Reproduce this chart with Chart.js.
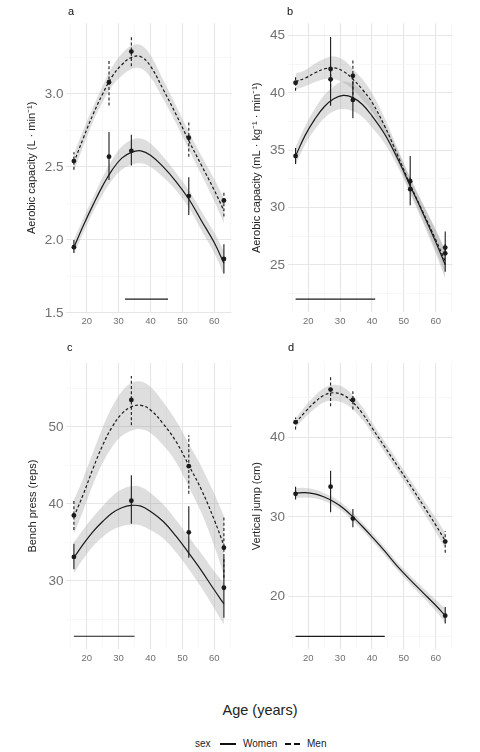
<!DOCTYPE html>
<html>
<head>
<meta charset="utf-8">
<script src="https://cdn.jsdelivr.net/npm/chart.js@4.4.0/dist/chart.umd.min.js"></script>
<style>
  body { margin: 0; background: #fff; width: 480px; height: 752px; position: relative; overflow: hidden;
         font-family: "Liberation Sans", Arial, sans-serif; }
  canvas { position: absolute; }
  .tag { position: absolute; font-size: 11px; color: #111; }
  .axt { position: absolute; font-size: 14.5px; color: #222; }
  .leg { position: absolute; font-size: 10px; color: #222; top: 738px; }
</style>
</head>
<body>
<canvas id="pa" width="240" height="335" style="left:0;top:0"></canvas>
<canvas id="pb" width="240" height="335" style="left:240px;top:0"></canvas>
<canvas id="pc" width="240" height="335" style="left:0;top:335px"></canvas>
<canvas id="pd" width="240" height="335" style="left:240px;top:335px"></canvas>

<div class="tag" style="left:68px;top:5px">a</div>
<div class="tag" style="left:287px;top:5px">b</div>
<div class="tag" style="left:67px;top:341px">c</div>
<div class="tag" style="left:288px;top:341px">d</div>
<div class="axt" style="left:0;width:520px;text-align:center;top:702px">Age (years)</div>

<div class="leg" style="left:195px">sex</div>
<svg style="position:absolute;left:219px;top:741px" width="18" height="6"><line x1="1" y1="3" x2="17" y2="3" stroke="#111" stroke-width="2"/></svg>
<div class="leg" style="left:243px">Women</div>
<svg style="position:absolute;left:284px;top:741px" width="18" height="6"><line x1="1" y1="3" x2="17" y2="3" stroke="#111" stroke-width="2" stroke-dasharray="6,3"/></svg>
<div class="leg" style="left:307px">Men</div>

<script>
// x axis, shared by all panels
const xTicks = [15, 20, 25, 30, 35, 40, 45, 50, 55, 60, 65];
const xLabels = ['', '20', '', '30', '', '40', '', '50', '', '60', ''];

const fitAge = [16, 19, 22, 25, 28, 31, 34, 37, 40, 44, 48, 52, 56, 60, 63];

// a - aerobic capacity (L/min)
const aAges = [16, 27, 34, 52, 63];
const aWomen = [1.95, 2.57, 2.61, 2.30, 1.87];
const aWomenLo = [1.91, 2.41, 2.51, 2.17, 1.77];
const aWomenHi = [2.00, 2.74, 2.72, 2.43, 1.97];
const aMen = [2.54, 3.08, 3.29, 2.70, 2.27];
const aMenLo = [2.48, 2.92, 3.19, 2.57, 2.16];
const aMenHi = [2.60, 3.23, 3.39, 2.81, 2.33];
const aFitWomen = [1.95, 2.10, 2.24, 2.37, 2.48, 2.56, 2.60, 2.61, 2.58, 2.50, 2.40, 2.28, 2.13, 1.98, 1.84];
const aSeWomen = [0.05, 0.05, 0.05, 0.06, 0.07, 0.08, 0.085, 0.085, 0.08, 0.07, 0.06, 0.06, 0.065, 0.07, 0.08];
const aFitMen = [2.53, 2.70, 2.86, 3.00, 3.12, 3.20, 3.25, 3.255, 3.19, 3.03, 2.86, 2.68, 2.51, 2.34, 2.20];
const aSeMen = [0.06, 0.055, 0.05, 0.055, 0.065, 0.075, 0.08, 0.08, 0.075, 0.065, 0.06, 0.06, 0.065, 0.075, 0.085];
const aYTicks = [1.5, 1.75, 2, 2.25, 2.5, 2.75, 3, 3.25];
const aYLabels = ['1.5', '', '2.0', '', '2.5', '', '3.0', ''];

// b - aerobic capacity (mL/kg/min)
const bAges = [16, 27, 34, 52, 63];
const bWomen = [34.5, 42.1, 39.4, 31.6, 26.0];
const bWomenLo = [33.8, 38.9, 37.8, 30.2, 24.4];
const bWomenHi = [35.2, 44.9, 41.0, 34.5, 27.9];
const bMen = [40.9, 41.2, 41.5, 32.3, 26.5];
const bMenLo = [40.2, 40.5, 39.4, 31.9, 26.1];
const bMenHi = [41.5, 41.9, 42.9, 32.7, 26.9];
const bFitWomen = [34.5, 36.3, 37.7, 38.8, 39.5, 39.8, 39.6, 39.0, 38.0, 36.4, 34.3, 31.9, 29.5, 27.0, 25.0];
const bSeWomen = [0.8, 0.8, 0.9, 1.0, 1.1, 1.2, 1.2, 1.1, 1.0, 0.8, 0.7, 0.7, 0.8, 1.0, 1.2];
const bFitMen = [41.0, 41.3, 41.75, 42.1, 42.2, 41.9, 41.2, 40.3, 39.2, 37.1, 34.6, 32.0, 29.6, 27.2, 25.3];
const bSeMen = [0.7, 0.7, 0.8, 0.9, 1.0, 1.0, 0.9, 0.9, 0.8, 0.7, 0.6, 0.6, 0.7, 0.9, 1.0];
const bYTicks = [22.5, 25, 27.5, 30, 32.5, 35, 37.5, 40, 42.5, 45];
const bYLabels = ['', '25', '', '30', '', '35', '', '40', '', '45'];

// c - bench press (reps)
const cAges = [16, 34, 52, 63];
const cWomen = [33.1, 40.4, 36.3, 29.1];
const cWomenLo = [31.5, 37.4, 33.0, 25.2];
const cWomenHi = [34.8, 43.7, 39.7, 33.1];
const cMen = [38.5, 53.5, 44.9, 34.3];
const cMenLo = [36.6, 50.2, 41.3, 30.4];
const cMenHi = [40.5, 56.6, 48.9, 38.3];
const cFitWomen = [33.0, 34.8, 36.4, 37.7, 38.8, 39.5, 39.8, 39.7, 39.0, 37.7, 35.8, 33.6, 31.3, 28.8, 27.0];
const cSeWomen = [2.0, 1.9, 1.9, 2.0, 2.2, 2.4, 2.5, 2.5, 2.4, 2.2, 2.1, 2.1, 2.2, 2.4, 2.7];
const cFitMen = [38.3, 41.3, 44.6, 47.6, 50.0, 51.7, 52.6, 52.8, 52.2, 50.4, 48.1, 45.0, 41.8, 37.9, 34.6];
const cSeMen = [2.2, 2.1, 2.1, 2.3, 2.6, 2.9, 3.1, 3.1, 3.0, 2.8, 2.7, 2.8, 3.0, 3.4, 3.8];
const cYTicks = [25, 30, 35, 40, 45, 50, 55];
const cYLabels = ['', '30', '', '40', '', '50', ''];

// d - vertical jump (cm)
const dAges = [16, 27, 34, 63];
const dWomen = [32.9, 33.8, 29.8, 17.6];
const dWomenLo = [32.2, 30.6, 28.7, 16.6];
const dWomenHi = [33.8, 35.8, 31.0, 18.7];
const dMen = [41.9, 46.0, 44.7, 26.9];
const dMenLo = [41.0, 43.9, 43.5, 25.5];
const dMenHi = [42.5, 47.7, 45.8, 28.2];
const dFitWomen = [33.0, 33.05, 32.9, 32.5, 31.9, 31.1, 30.0, 28.8, 27.5, 25.7, 23.8, 22.1, 20.5, 18.9, 17.6];
const dSeWomen = [0.6, 0.6, 0.55, 0.5, 0.5, 0.5, 0.5, 0.5, 0.5, 0.5, 0.5, 0.55, 0.6, 0.7, 0.9];
const dFitMen = [41.8, 43.2, 44.4, 45.3, 45.6, 45.3, 44.4, 43.0, 41.2, 38.8, 36.4, 34.0, 31.5, 29.0, 27.0];
const dSeMen = [0.6, 0.7, 0.8, 0.9, 1.0, 1.0, 0.9, 0.8, 0.7, 0.7, 0.7, 0.7, 0.8, 0.9, 1.0];
const dYTicks = [15, 20, 25, 30, 35, 40, 45];
const dYLabels = ['', '20', '', '30', '', '40', ''];

// the horizontal bar near the bottom of each panel
const spanFrom = [32, 16, 16, 16];
const spanTo = [45.5, 41, 35, 44];
const spanAt = [1.594, 22.0, 22.8, 15.0];

const ink = '#1a1a1a';
const band = 'rgba(153,153,153,0.32)';
const dash = [3, 2.2];

function pts(xs, ys) {
  return xs.map((x, i) => ({x: x, y: ys[i]}));
}
function bars(xs, lo, hi) {
  const out = [];
  xs.forEach((x, i) => { out.push({x: x, y: lo[i]}, {x: x, y: hi[i]}, {x: x, y: null}); });
  return out;
}
function shifted(ys, se, sign) {
  return ys.map((v, i) => v + sign * se[i]);
}

function makePanel(id, p) {
  const curve = {showLine: true, pointRadius: 0, tension: 0.4};
  const datasets = [
    Object.assign({data: pts(fitAge, shifted(p.fitM, p.seM, 1)), borderWidth: 0, fill: '+1', backgroundColor: band, order: 5}, curve),
    Object.assign({data: pts(fitAge, shifted(p.fitM, p.seM, -1)), borderWidth: 0, fill: false, order: 5}, curve),
    Object.assign({data: pts(fitAge, shifted(p.fitW, p.seW, 1)), borderWidth: 0, fill: '+1', backgroundColor: band, order: 5}, curve),
    Object.assign({data: pts(fitAge, shifted(p.fitW, p.seW, -1)), borderWidth: 0, fill: false, order: 5}, curve),
    Object.assign({data: pts(fitAge, p.fitW), borderColor: ink, borderWidth: 1.2, order: 2}, curve),
    Object.assign({data: pts(fitAge, p.fitM), borderColor: ink, borderWidth: 1.2, borderDash: dash, order: 2}, curve),
    {data: bars(p.ages, p.wLo, p.wHi), showLine: true, spanGaps: false, pointRadius: 0, borderColor: ink, borderWidth: 1.1, order: 1},
    {data: bars(p.ages, p.mLo, p.mHi), showLine: true, spanGaps: false, pointRadius: 0, borderColor: ink, borderWidth: 1.1, borderDash: dash, order: 1},
    {data: pts(p.ages, p.w), pointRadius: 2.4, backgroundColor: ink, borderWidth: 0, order: 0},
    {data: pts(p.ages, p.m), pointRadius: 2.4, backgroundColor: ink, borderWidth: 0, order: 0},
    {data: [{x: p.span[0], y: p.span[2]}, {x: p.span[1], y: p.span[2]}], showLine: true, pointRadius: 0, borderColor: ink, borderWidth: 1.1, order: 2}
  ];

  const isMajorX = v => xLabels[xTicks.indexOf(v)] !== '';
  const isMajorY = v => p.yLabels[p.yTicks.indexOf(v)] !== '';

  new Chart(document.getElementById(id), {
    type: 'scatter',
    data: {datasets: datasets},
    options: {
      responsive: false,
      animation: false,
      events: [],
      layout: {padding: {top: p.top, right: p.right, left: 0, bottom: 0}},
      plugins: {legend: {display: false}, tooltip: {enabled: false}},
      scales: {
        x: {
          type: 'linear', min: 13.65, max: 65.35,
          border: {display: false},
          grid: {
            drawTicks: false,
            color: c => isMajorX(c.tick.value) ? '#e6e6e6' : '#f1f1f1',
            lineWidth: c => isMajorX(c.tick.value) ? 1.1 : 0.6
          },
          afterBuildTicks: ax => { ax.ticks = xTicks.map(v => ({value: v})); },
          ticks: {
            autoSkip: false, maxRotation: 0, padding: 3.5, color: '#707070',
            font: {family: 'Liberation Sans', size: 9.5},
            callback: v => xLabels[xTicks.indexOf(v)]
          },
          afterFit: s => { s.height = p.xh; }
        },
        y: {
          type: 'linear', min: p.ymin, max: p.ymax,
          border: {display: false},
          grid: {
            drawTicks: false,
            color: c => isMajorY(c.tick.value) ? '#e6e6e6' : '#f1f1f1',
            lineWidth: c => isMajorY(c.tick.value) ? 1.1 : 0.6
          },
          afterBuildTicks: ax => { ax.ticks = p.yTicks.map(v => ({value: v})); },
          ticks: {
            autoSkip: false, padding: 3, color: '#707070',
            font: {family: 'Liberation Sans', size: 13.5},
            callback: v => p.yLabels[p.yTicks.indexOf(v)]
          },
          title: {
            display: true, text: p.title, color: '#222',
            font: {family: 'Liberation Sans', size: 11},
            padding: {top: p.titlePad, bottom: 0}
          },
          afterFit: s => { s.width = p.yw; }
        }
      }
    }
  });
}

makePanel('pa', {
  ages: aAges, w: aWomen, wLo: aWomenLo, wHi: aWomenHi, m: aMen, mLo: aMenLo, mHi: aMenHi,
  fitW: aFitWomen, seW: aSeWomen, fitM: aFitMen, seM: aSeMen,
  yTicks: aYTicks, yLabels: aYLabels, ymin: 1.504, ymax: 3.484,
  span: [spanFrom[0], spanTo[0], spanAt[0]],
  title: 'Aerobic capacity (L · min⁻¹)', titlePad: 25,
  top: 23.3, right: 8.6, yw: 66.4, xh: 22.7
});
makePanel('pb', {
  ages: bAges, w: bWomen, wLo: bWomenLo, wHi: bWomenHi, m: bMen, mLo: bMenLo, mHi: bMenHi,
  fitW: bFitWomen, seW: bSeWomen, fitM: bFitMen, seM: bSeMen,
  yTicks: bYTicks, yLabels: bYLabels, ymin: 20.85, ymax: 46.09,
  span: [spanFrom[1], spanTo[1], spanAt[1]],
  title: 'Aerobic capacity (mL · kg⁻¹ · min⁻¹)', titlePad: 10,
  top: 23.3, right: 27.3, yw: 48.1, xh: 22.7
});
makePanel('pc', {
  ages: cAges, w: cWomen, wLo: cWomenLo, wHi: cWomenHi, m: cMen, mLo: cMenLo, mHi: cMenHi,
  fitW: cFitWomen, seW: cSeWomen, fitM: cFitMen, seM: cSeMen,
  yTicks: cYTicks, yLabels: cYLabels, ymin: 21.1, ymax: 58.3,
  span: [spanFrom[2], spanTo[2], spanAt[2]],
  title: 'Bench press (reps)', titlePad: 26.5,
  top: 28, right: 8.6, yw: 66.4, xh: 20.7
});
makePanel('pd', {
  ages: dAges, w: dWomen, wLo: dWomenLo, wHi: dWomenHi, m: dMen, mLo: dMenLo, mHi: dMenHi,
  fitW: dFitWomen, seW: dSeWomen, fitM: dFitMen, seM: dSeMen,
  yTicks: dYTicks, yLabels: dYLabels, ymin: 13.37, ymax: 49.34,
  span: [spanFrom[3], spanTo[3], spanAt[3]],
  title: 'Vertical jump (cm)', titlePad: 10,
  top: 28, right: 27.3, yw: 48.1, xh: 20.7
});
</script>
</body>
</html>
